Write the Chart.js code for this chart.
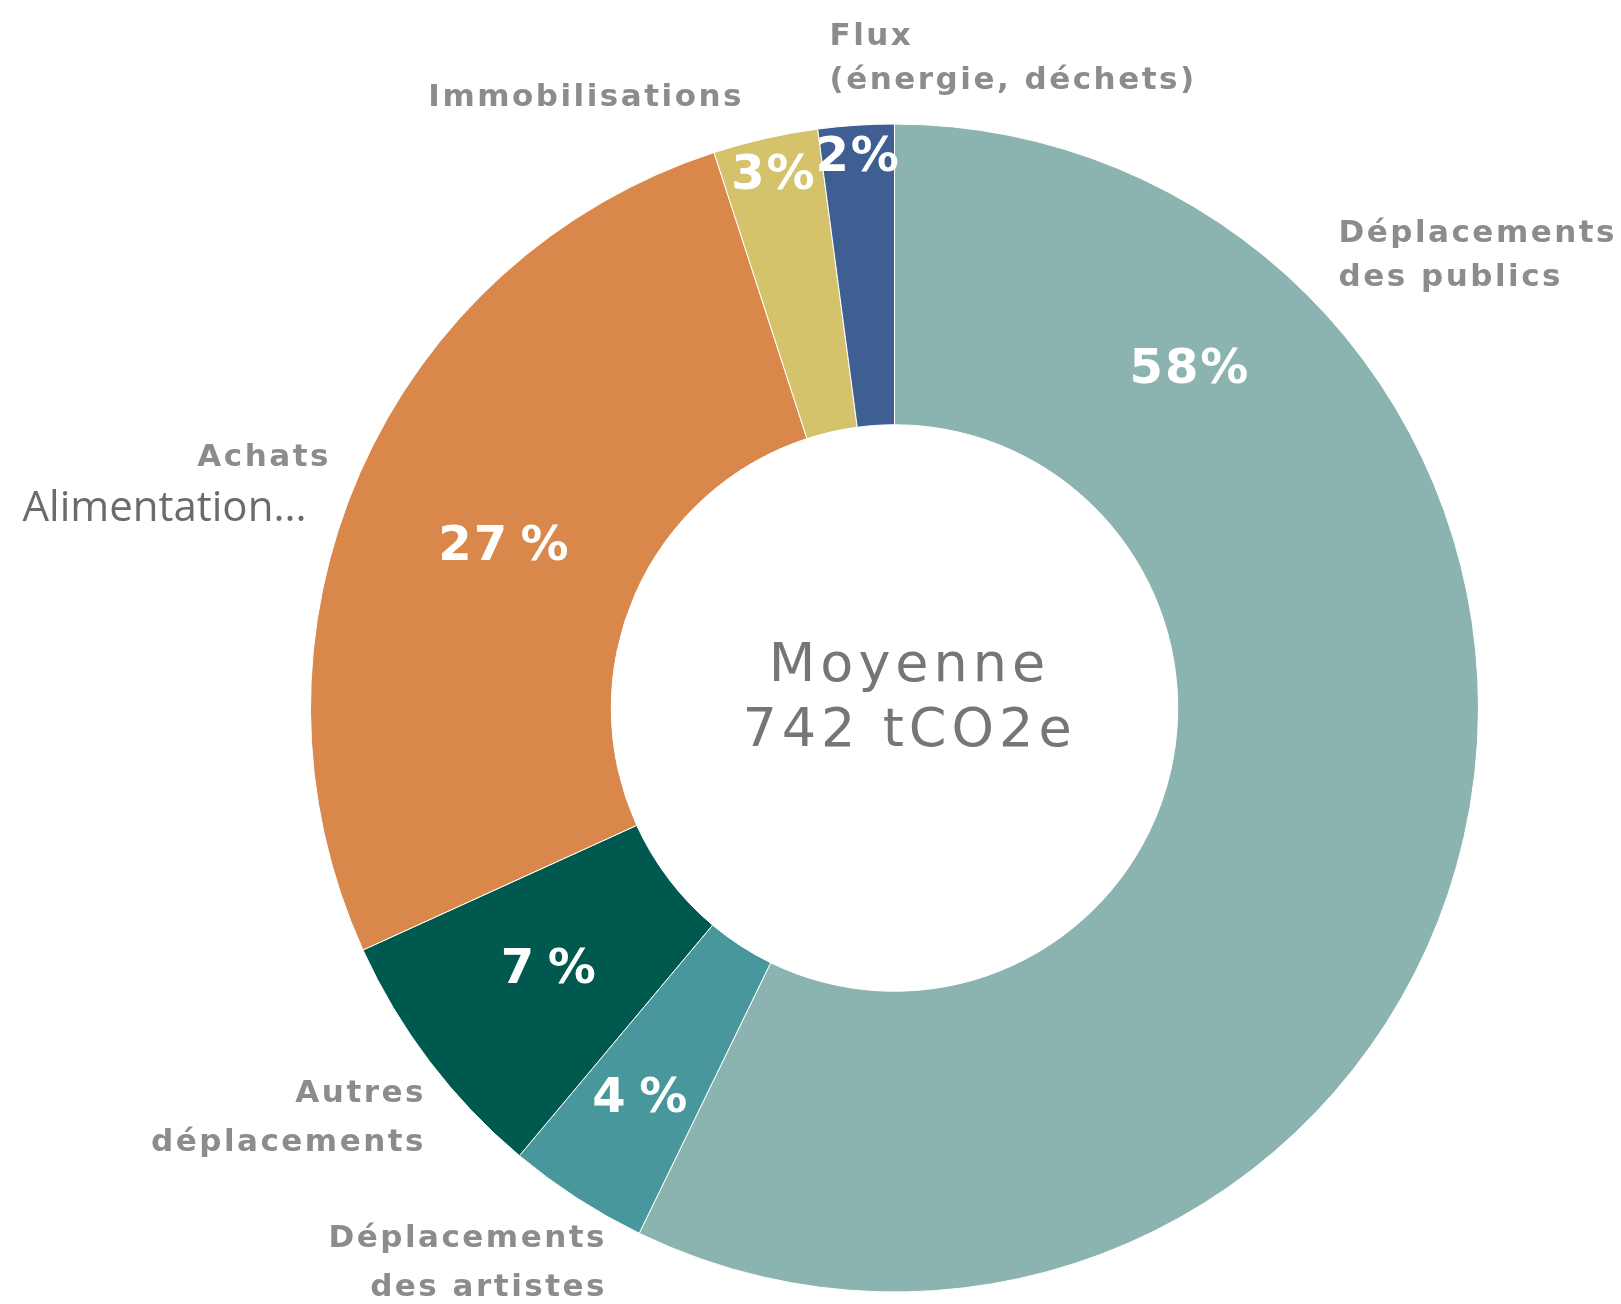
<!DOCTYPE html>
<html>
<head>
<meta charset="utf-8">
<script src="https://cdn.jsdelivr.net/npm/chart.js@4/dist/chart.umd.min.js"></script>
<style>
    html, body { margin: 0; padding: 0; background: #fff; }
    #wrap { width: 1621px; height: 1304px; position: relative; }
</style>
</head>
<body>
<div id="wrap"><canvas id="bilan-chart"></canvas></div>
<script>
// repartition moyenne des emissions (tCO2e)
var categories = ["Déplacements des publics", "Déplacements des artistes", "Autres déplacements", "Achats", "Immobilisations", "Flux (énergie, déchets)"];
var shares = [57.2, 3.9, 7.1, 26.8, 2.9, 2.1];
var shareLabels = ["58%", "4\u2009%", "7\u2009%", "27\u2009%", "3%", "2%"];
var labelLines = [
    ["Déplacements", "des publics"],
    ["Déplacements", "des artistes"],
    ["Autres", "déplacements"],
    ["Achats"],
    ["Immobilisations"],
    ["Flux", "(énergie, déchets)"]
];
var colors = ["#8bb4b1", "#48979c", "#00594e", "#d9874a", "#d4c36b", "#3f5f93"];
var centerLines = ["Moyenne", "742 tCO2e"];
var extraLabel = "Alimentation...";

// where the texts go (px from ring center) - kept apart from the data
var outerPos = [
    { dx: 444, dy: -474, lh: 44, align: "left" },
    { dx: -290, dy: 531, lh: 49, align: "right" },
    { dx: -471, dy: 386, lh: 49, align: "right" },
    { dx: -566, dy: -250, lh: 44, align: "right" },
    { dx: -153, dy: -610, lh: 44, align: "right" },
    { dx: -65, dy: -671, lh: 44, align: "left" }
];
// share label : fraction along the arc, fraction across the ring
var innerPos = [[0.2, 0.55], [0.5, 0.61], [0.5, 0.5], [0.485, 0.46], [0.5, 0.87], [0.5, 0.89]];

var labelPlugin = {
    id: "ringLabels",
    afterDatasetsDraw: function (chart) {
        var ctx = chart.ctx;
        var arcs = chart.getDatasetMeta(0).data;
        var cx = arcs[0].x, cy = arcs[0].y;
        ctx.save();
        ctx.textBaseline = "middle";

        // percentages inside the ring
        ctx.fillStyle = "#ffffff";
        ctx.textAlign = "center";
        ctx.font = "bold 48px 'DejaVu Sans'";
        ctx.letterSpacing = "2px";
        for (var i = 0; i < arcs.length; i++) {
            var p = arcs[i].getProps(["startAngle", "endAngle", "innerRadius", "outerRadius"], true);
            var a = p.startAngle + (p.endAngle - p.startAngle) * innerPos[i][0];
            var r = p.innerRadius + (p.outerRadius - p.innerRadius) * innerPos[i][1];
            ctx.fillText(shareLabels[i], cx + Math.cos(a) * r, cy + Math.sin(a) * r);
        }

        // category names
        ctx.fillStyle = "#8c8c8c";
        ctx.font = "bold 31px 'DejaVu Sans'";
        ctx.letterSpacing = "2.5px";
        for (var j = 0; j < labelLines.length; j++) {
            ctx.textAlign = outerPos[j].align;
            var shift = outerPos[j].align === "right" ? 2.5 : 0; // trailing letter spacing
            for (var k = 0; k < labelLines[j].length; k++) {
                ctx.fillText(labelLines[j][k], cx + outerPos[j].dx + shift, cy + outerPos[j].dy + k * outerPos[j].lh);
            }
        }

        ctx.fillStyle = "#6b6b6b";
        ctx.textAlign = "left";
        ctx.font = "42px 'Open Sans'";
        ctx.letterSpacing = "0px";
        ctx.fillText(extraLabel, cx - 872, cy - 199);

        // center
        ctx.fillStyle = "#767676";
        ctx.textAlign = "center";
        ctx.font = "54px 'DejaVu Sans'";
        ctx.letterSpacing = "5px";
        ctx.fillText(centerLines[0], cx + 15, cy - 41);
        ctx.fillText(centerLines[1], cx + 15, cy + 24);
        ctx.restore();
    }
};

var chart = new Chart(document.getElementById("bilan-chart"), {
    type: "doughnut",
    data: {
        labels: categories,
        datasets: [{
            data: shares,
            backgroundColor: colors,
            borderColor: "#ffffff",
            borderWidth: 1
        }]
    },
    options: {
        responsive: true,
        maintainAspectRatio: false,
        animation: false,
        cutout: "48.5%",
        layout: { padding: { top: 123, bottom: 11, left: 310, right: 142 } },
        plugins: {
            legend: { display: false },
            tooltip: { enabled: false }
        }
    },
    plugins: [labelPlugin]
});
</script>
</body>
</html>
